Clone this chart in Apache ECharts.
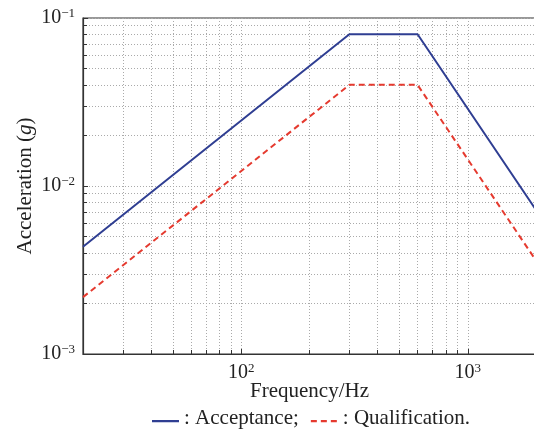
<!DOCTYPE html>
<html>
<head>
<meta charset="utf-8">
<style>html,body{margin:0;padding:0;background:#fff;}#c{width:534px;height:430px;}</style>
<script src="https://cdn.jsdelivr.net/npm/echarts@6/dist/echarts.min.js"></script>
</head>
<body>
<div id="c"></div>
<script>
var frequency = [20, 300, 600, 2000];
var acceptance = [0.00435, 0.08, 0.08, 0.0072];
var qualification = [0.00218, 0.04, 0.04, 0.0036];

var chart = echarts.init(document.getElementById('c'));
var FONT = 'Liberation Serif';
function supLabel(v) {
  var e = Math.round(Math.log10(v));
  return '{b|10}{s|' + (e < 0 ? '\u2212' + (-e) : e) + '}';
}
var labelRich = {
  b: { fontFamily: FONT, fontSize: 20, color: '#222' },
  s: { fontFamily: FONT, fontSize: 13, color: '#222', verticalAlign: 'top', padding: [0, 0, 9, 0] }
};
chart.setOption({
  animation: false,
  grid: { left: 83, top: 18, right: -2, bottom: 76, outerBoundsMode: 'none', containLabel: false,
          show: true, borderColor: '#333', borderWidth: 1.2 },
  legend: {
    top: 403, left: 147, itemWidth: 27, itemHeight: 10, itemGap: 12,
    textStyle: { fontFamily: FONT, fontSize: 21, color: '#222' },
    formatter: function (n) { return n === 'Acceptance' ? ': Acceptance;' : ': Qualification.'; },
    data: [
      { name: 'Acceptance', icon: 'path://M0,6.6 L27,6.6 L27,8.8 L0,8.8 Z M0,0 L0.01,0 Z M27,10 L27.01,10 Z' },
      { name: 'Qualification', icon: 'path://M0,6.6 L6,6.6 L6,8.8 L0,8.8 Z M10,6.6 L16,6.6 L16,8.8 L10,8.8 Z M20,6.6 L26,6.6 L26,8.8 L20,8.8 Z M0,0 L0.01,0 Z M27,10 L27.01,10 Z' }
    ]
  },
  xAxis: {
    type: 'log', min: 20, max: 2000, logBase: 10,
    name: 'Frequency/Hz', nameLocation: 'middle', nameGap: 27, nameMoveOverlap: false,
    nameTextStyle: { fontFamily: FONT, fontSize: 21, color: '#222' },
    axisLine: { lineStyle: { color: '#333', width: 1.2 } },
    axisTick: { inside: true, length: 5, lineStyle: { color: '#333' } },
    minorTick: { show: true, splitNumber: 9, length: 4, lineStyle: { color: '#333' } },
    splitLine: { show: true, lineStyle: { color: '#aaa', type: [1, 2] } },
    minorSplitLine: { show: true, lineStyle: { color: '#aaa', type: [1, 2] } },
    axisLabel: { margin: 8, formatter: supLabel, showMinLabel: false, showMaxLabel: false, rich: labelRich }
  },
  yAxis: {
    type: 'log', min: 0.001, max: 0.1, logBase: 10,
    name: '{n|Acceleration (}{i|g}{n|)}', nameLocation: 'middle', nameGap: 47, nameMoveOverlap: false,
    nameTextStyle: { rich: {
      n: { fontFamily: FONT, fontSize: 21, color: '#222' },
      i: { fontFamily: FONT, fontSize: 21, fontStyle: 'italic', color: '#222' } } },
    axisLine: { lineStyle: { color: '#333', width: 1.2 } },
    axisTick: { inside: true, length: 5, lineStyle: { color: '#333' } },
    minorTick: { show: true, splitNumber: 9, length: 4, lineStyle: { color: '#333' } },
    splitLine: { show: true, lineStyle: { color: '#aaa', type: [1, 2] } },
    minorSplitLine: { show: true, lineStyle: { color: '#aaa', type: [1, 2] } },
    axisLabel: { margin: 8, formatter: supLabel, rich: labelRich }
  },
  series: [
    { name: 'Acceptance', type: 'line', symbol: 'none', color: '#2f3e92',
      lineStyle: { width: 2, color: '#2f3e92' },
      data: frequency.map(function (f, i) { return [f, acceptance[i]]; }) },
    { name: 'Qualification', type: 'line', symbol: 'none', color: '#e53a2f',
      lineStyle: { width: 2, color: '#e53a2f', type: [6, 4] },
      data: frequency.map(function (f, i) { return [f, qualification[i]]; }) }
  ]
});
</script>
</body>
</html>
